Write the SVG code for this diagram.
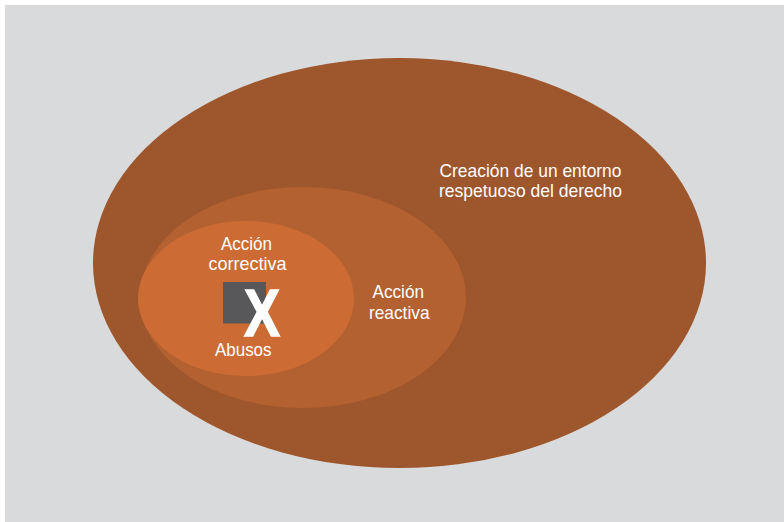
<svg xmlns="http://www.w3.org/2000/svg" width="784" height="522" viewBox="0 0 784 522">
  <style>
    .lbl { font-family: "Liberation Sans", Arial, sans-serif; font-size: 19px; fill: #ffffff; }
  </style>
  <rect x="0" y="0" width="784" height="522" fill="#ffffff"/>
  <rect x="5" y="5" width="779" height="517" fill="#d9dadb"/>
  <g id="outer">
    <ellipse cx="399.5" cy="263" rx="306.5" ry="205" fill="#9e562c"/>
    <text class="lbl" x="439.5" y="177" textLength="182" lengthAdjust="spacingAndGlyphs">Creación de un entorno</text>
    <text class="lbl" x="439" y="197" textLength="183" lengthAdjust="spacingAndGlyphs">respetuoso del derecho</text>
  </g>
  <g id="reactive">
    <ellipse cx="303" cy="297.5" rx="163" ry="110.5" fill="#b36130"/>
    <text class="lbl" x="372.5" y="297.5" textLength="51.5" lengthAdjust="spacingAndGlyphs">Acción</text>
    <text class="lbl" x="369" y="318.5" textLength="60.5" lengthAdjust="spacingAndGlyphs">reactiva</text>
  </g>
  <g id="corrective">
    <ellipse cx="246" cy="298.5" rx="108" ry="77.5" fill="#cc6c34"/>
    <text class="lbl" x="221" y="249.5" textLength="51" lengthAdjust="spacingAndGlyphs">Acción</text>
    <text class="lbl" x="208.5" y="270" textLength="78" lengthAdjust="spacingAndGlyphs">correctiva</text>
  </g>
  <g id="abusos">
    <rect x="223" y="282" width="43" height="41.5" fill="#58585a"/>
    <text x="244" y="336" font-family="Liberation Sans, Arial, sans-serif" font-weight="bold" font-size="67" fill="#ffffff" stroke="#ffffff" stroke-width="1.5" textLength="36" lengthAdjust="spacingAndGlyphs">X</text>
    <text class="lbl" x="215" y="355.5" textLength="56.5" lengthAdjust="spacingAndGlyphs">Abusos</text>
  </g>
</svg>
